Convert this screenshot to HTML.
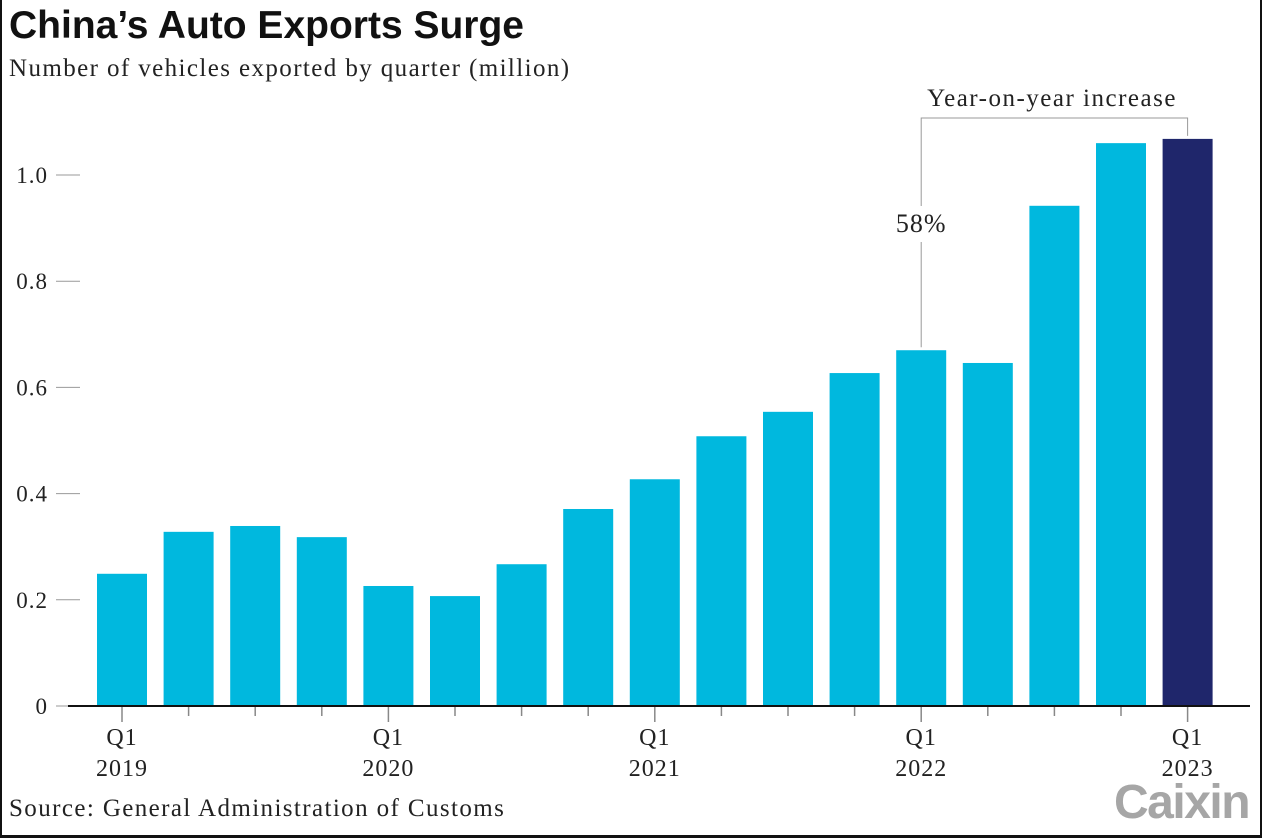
<!DOCTYPE html>
<html><head><meta charset="utf-8"><style>
body{margin:0;background:#fff;}
#wrap{position:relative;width:1262px;height:838px;overflow:hidden;background:#fff;box-sizing:border-box;border-left:2px solid #111;border-bottom:3px solid #111;border-right:2px solid #111;}
.t{position:absolute;font-family:"Liberation Serif",serif;color:#222;white-space:nowrap;}
</style></head><body>
<div id="wrap">
<div class="t" style="left:7px;top:4px;font-family:'Liberation Sans',sans-serif;font-weight:bold;font-size:39px;letter-spacing:0px;color:#111;">China’s Auto Exports Surge</div>
<div class="t" style="left:7px;top:55px;font-size:25px;letter-spacing:1.4px;">Number of vehicles exported by quarter (million)</div>
<div class="t" style="left:7px;top:795px;font-size:25px;letter-spacing:1.4px;">Source: General Administration of Customs</div>
<div class="t" style="left:1112px;top:775px;font-family:'Liberation Sans',sans-serif;font-weight:bold;font-size:48px;color:#a6a6a6;letter-spacing:-1.5px;">Caixin</div>
<svg id="chart" width="1262" height="838" style="position:absolute;left:-2px;top:0"></svg>
</div>
<script>
const categories=["Q1 2019","Q2 2019","Q3 2019","Q4 2019","Q1 2020","Q2 2020","Q3 2020","Q4 2020","Q1 2021","Q2 2021","Q3 2021","Q4 2021","Q1 2022","Q2 2022","Q3 2022","Q4 2022","Q1 2023"];
const values=[0.249,0.328,0.339,0.318,0.226,0.207,0.267,0.371,0.427,0.508,0.554,0.627,0.670,0.646,0.942,1.060,1.068];
const yTicks=[0,0.2,0.4,0.6,0.8,1.0];
const yTickLabels=["0","0.2","0.4","0.6","0.8","1.0"];
const annotationLabel="58%";
const annotationTitle="Year-on-year increase";
const svg=document.getElementById('chart');
const NS="http://www.w3.org/2000/svg";
const y0=706,pxPer=531,x0=122,step=66.6,bw=50;
const Y=v=>y0-v*pxPer, X=i=>x0+i*step;
const F='Liberation Serif,serif';
function mk(tag,attrs,parent){const e=document.createElementNS(NS,tag);for(const k in attrs)e.setAttribute(k,attrs[k]);(parent||svg).appendChild(e);return e;}
yTicks.forEach((v,i)=>{
 const l=mk('line',{x1:56,x2:80,y1:Y(v),y2:Y(v),stroke:'#999','stroke-width':1});
 
 
 const t=mk('text',{x:48,y:Y(v)+8,'text-anchor':'end','font-family':F,'font-size':23,'letter-spacing':1,fill:'#222'});
 t.textContent=yTickLabels[i];
 
 
});
values.forEach((v,i)=>{
 const r=mk('rect',{x:X(i)-bw/2,y:Y(v),width:bw,height:y0-Y(v),fill:i===values.length-1?'#1f266b':'#00b8de'});
 
 
 const q1=categories[i].startsWith('Q1');
 const tk=mk('line',{x1:X(i),x2:X(i),y1:y0,y2:y0+(q1?16:10),stroke:'#888','stroke-width':1.5});
 
 
 if(q1){
  const p=categories[i].split(' ');
  const a=mk('text',{x:X(i),y:745,'text-anchor':'middle','font-family':F,'font-size':24,'letter-spacing':1,fill:'#222'});a.textContent=p[0];
  
  
  const b=mk('text',{x:X(i),y:776,'text-anchor':'middle','font-family':F,'font-size':24,'letter-spacing':1,fill:'#222'});b.textContent=p[1];
  
  
 }
});
const ax=mk('line',{x1:68,x2:1250,y1:y0,y2:y0,stroke:'#111','stroke-width':2});


const a=12,b=16,ty=118;
const br=mk('path',{d:`M${X(a)} ${Y(values[a])-3} V242 M${X(a)} 206 V${ty} H${X(b)} V${Y(values[b])-3}`,fill:'none',stroke:'#999','stroke-width':1});


const lt=mk('text',{x:X(a),y:232,'text-anchor':'middle','font-family':F,'font-size':26,'letter-spacing':1,fill:'#222'});lt.textContent=annotationLabel;


const at=mk('text',{x:1052,y:106,'text-anchor':'middle','font-family':F,'font-size':25,'letter-spacing':1.5,fill:'#222'});at.textContent=annotationTitle;


</script>
</body></html>
